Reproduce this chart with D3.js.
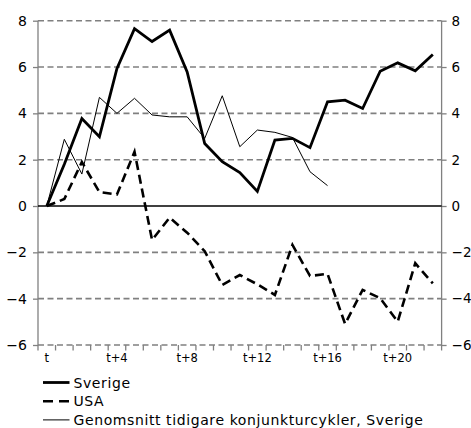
<!DOCTYPE html>
<html>
<head>
<meta charset="utf-8">
<script src="https://cdn.jsdelivr.net/npm/d3@7"></script>
<style>
  html, body { margin: 0; padding: 0; background: #fff; }
  svg { display: block; font-family: "DejaVu Sans", Verdana, sans-serif; }
</style>
</head>
<body>
<svg id="chart" width="471" height="428"></svg>
<script>
const categories = ["t","t+1","t+2","t+3","t+4","t+5","t+6","t+7","t+8","t+9","t+10","t+11",
  "t+12","t+13","t+14","t+15","t+16","t+17","t+18","t+19","t+20","t+21","t+22"];
const xTickLabels = ["t","t+4","t+8","t+12","t+16","t+20"];
const yTicks = [-6,-4,-2,0,2,4,6,8];

const sverige = [0, 1.8, 3.78, 2.99, 5.94, 7.66, 7.1, 7.59, 5.79, 2.7, 1.91, 1.44,
  0.63, 2.85, 2.92, 2.52, 4.5, 4.57, 4.21, 5.82, 6.18, 5.84, 6.54];
const usa = [0, 0.3, 1.9, 0.6, 0.5, 2.34, -1.47, -0.5, -1.15, -1.95, -3.41, -2.98,
  -3.38, -3.84, -1.68, -3.02, -2.93, -5.09, -3.62, -3.98, -4.99, -2.47, -3.34];
const genomsnitt = [0, 2.88, 1.38, 4.69, 4.0, 4.65, 3.93, 3.85, 3.85, 2.92, 4.76, 2.56,
  3.28, 3.18, 2.96, 1.48, 0.88];

const series = [
  {name: "Sverige", values: sverige, width: 2.8, dash: null},
  {name: "USA", values: usa, width: 2.6, dash: "9,5"},
  {name: "Genomsnitt tidigare konjunkturcykler, Sverige", values: genomsnitt, width: 1, dash: null}
];

const svg = d3.select("#chart");
const pLeft = 38, pRight = 441.6, pTop = 20.7, pBottom = 345;

const x = d3.scaleBand().domain(categories).range([pLeft, pRight]).padding(0);
const y = d3.scaleLinear().domain([-6, 8]).range([pBottom, pTop]);
const cx = c => x(c) + x.bandwidth() / 2;

// gridlines
svg.append("g").selectAll("line")
  .data(yTicks.filter(v => v !== 0))
  .join("line")
  .attr("x1", pLeft).attr("x2", pRight)
  .attr("y1", d => y(d)).attr("y2", d => y(d))
  .attr("stroke", "#808080").attr("stroke-width", 1.6)
  .attr("stroke-dasharray", "6,3.5");

// left & right axes
const axL = svg.append("g").attr("transform", `translate(${pLeft},0)`)
  .call(d3.axisLeft(y).tickValues(yTicks).tickSize(5).tickPadding(6));
const axR = svg.append("g").attr("transform", `translate(${pRight},0)`)
  .call(d3.axisRight(y).tickValues(yTicks).tickSize(5).tickPadding(5));
[axL, axR].forEach(g => {
  g.select(".domain").attr("stroke", "#808080").attr("stroke-width", 1.3)
    .attr("d", `M0,${pBottom}V${pTop}`);
  g.selectAll(".tick line").attr("stroke", "#808080").attr("stroke-width", 1.3);
  g.selectAll(".tick text").attr("font-size", 14).attr("fill", "#000")
    .attr("font-family", "DejaVu Sans, Verdana, sans-serif");
});
axR.selectAll(".tick text").attr("font-size", 13.5);

// x axis ticks at category boundaries
const bounds = categories.map(c => x(c)).concat([pRight]);
svg.append("g").selectAll("line")
  .data(bounds)
  .join("line")
  .attr("x1", d => d).attr("x2", d => d)
  .attr("y1", pBottom).attr("y2", pBottom + 5.5)
  .attr("stroke", "#808080").attr("stroke-width", 1.3);

svg.append("g").selectAll("text")
  .data(xTickLabels)
  .join("text")
  .attr("x", d => cx(d)).attr("y", pBottom + 17)
  .attr("text-anchor", "middle")
  .attr("font-size", 11.5)
  .text(d => d);

// zero line
svg.append("line")
  .attr("x1", pLeft).attr("x2", pRight)
  .attr("y1", y(0)).attr("y2", y(0))
  .attr("stroke", "#000").attr("stroke-width", 1.4);

// series lines
const line = d3.line().x((d, i) => cx(categories[i])).y(d => y(d));
series.forEach(s => {
  svg.append("path")
    .datum(s.values)
    .attr("d", line)
    .attr("fill", "none")
    .attr("stroke", "#000")
    .attr("stroke-width", s.width)
    .attr("stroke-linejoin", "miter")
    .attr("stroke-dasharray", s.dash);
});

// legend
const lg = svg.append("g");
series.forEach((s, i) => {
  const yy = 382.5 + i * 18.7;
  lg.append("line")
    .attr("x1", 43).attr("x2", 69.5)
    .attr("y1", yy).attr("y2", yy)
    .attr("stroke", "#000")
    .attr("stroke-width", s.width)
    .attr("stroke-dasharray", s.dash ? "10,6" : null);
  lg.append("text")
    .attr("x", 73.5).attr("y", yy + 5)
    .attr("font-size", 14)
    .attr("letter-spacing", 0.6)
    .text(s.name);
});
</script>
</body>
</html>
